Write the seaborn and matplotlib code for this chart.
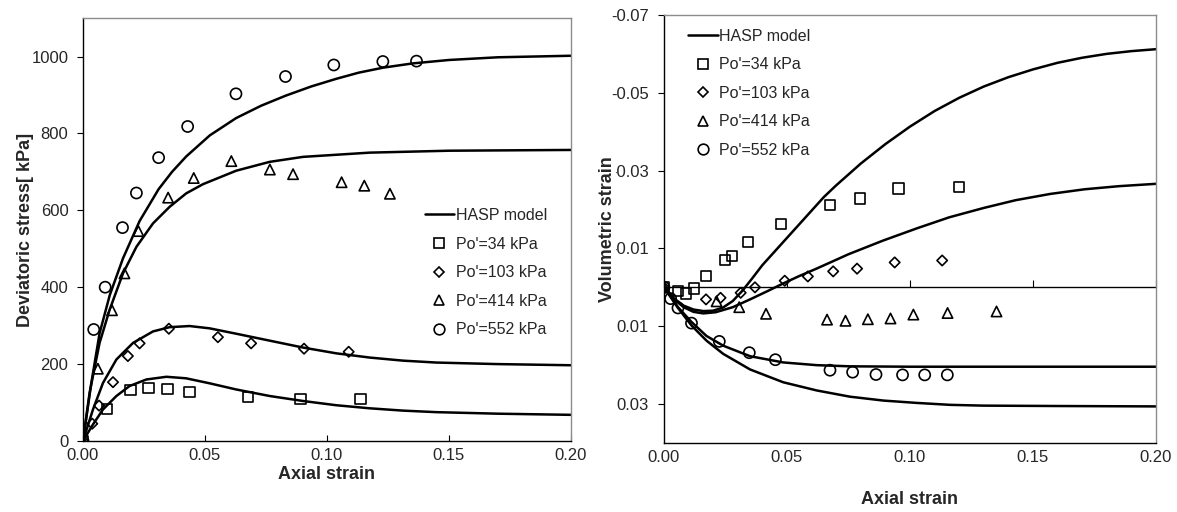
import numpy as np
import pandas as pd
import matplotlib
matplotlib.use("Agg")
import matplotlib.pyplot as plt
import seaborn as sns
from matplotlib.lines import Line2D

# ---- left panel: deviatoric stress (kPa) vs axial strain ----
dev_x_34 = [0, 0.0098, 0.0195, 0.0269, 0.0346, 0.0437, 0.0676, 0.0891, 0.1137]
dev_y_34 = [0, 83, 132, 137, 135, 127, 114, 109, 109]
dev_x_103 = [0, 0.0038, 0.0066, 0.0123, 0.0184, 0.0232, 0.0352, 0.0553, 0.0689, 0.0906, 0.1089]
dev_y_103 = [0, 45, 92, 153, 221, 254, 292, 270, 254, 240, 232]
dev_x_414 = [0, 0.0061, 0.0119, 0.0170, 0.0227, 0.0349, 0.0454, 0.0608, 0.0766, 0.0861, 0.1060, 0.1153, 0.1258]
dev_y_414 = [0, 188, 340, 436, 546, 633, 684, 728, 706, 694, 673, 664, 643]
dev_x_552 = [0, 0.0044, 0.0091, 0.0162, 0.0219, 0.0310, 0.0429, 0.0627, 0.0830, 0.1028, 0.1229, 0.1367]
dev_y_552 = [0, 290, 400, 555, 645, 737, 818, 903, 948, 978, 987, 988]

# model curves (left)
mdev_x_34 = [0, 0.0041, 0.0082, 0.0137, 0.0191, 0.026, 0.0342, 0.0423, 0.0519, 0.0628,
             0.0765, 0.0902, 0.1038, 0.1175, 0.1311, 0.1448, 0.17, 0.2]
mdev_y_34 = [0, 43, 82, 117, 143, 160, 167, 163, 150, 134, 117, 104, 93, 85, 79, 75, 71, 68]
mdev_x_103 = [0, 0.0041, 0.0082, 0.0137, 0.0205, 0.0287, 0.0355, 0.0437, 0.0519, 0.0628,
              0.0765, 0.0902, 0.1038, 0.1175, 0.1311, 0.1448, 0.17, 0.2]
mdev_y_103 = [0, 82, 151, 212, 255, 285, 296, 299, 293, 279, 261, 243, 228, 217, 209, 204, 200, 197]
mdev_x_414 = [0, 0.0027, 0.0068, 0.0109, 0.0164, 0.0219, 0.0287, 0.0355, 0.0423, 0.0492,
              0.0628, 0.0765, 0.0902, 0.1175, 0.15, 0.2]
mdev_y_414 = [0, 125, 255, 341, 436, 505, 566, 609, 644, 668, 703, 726, 739, 750, 755, 757]
mdev_x_552 = [0, 0.0034, 0.0068, 0.011, 0.0164, 0.0232, 0.031, 0.0365, 0.0423, 0.052, 0.0628,
              0.073, 0.083, 0.0935, 0.1038, 0.113, 0.123, 0.135, 0.15, 0.17, 0.2]
mdev_y_552 = [0, 150, 280, 380, 475, 572, 655, 700, 740, 795, 840, 872, 898, 922, 942, 958, 971, 982, 991, 998, 1002]

# ---- right panel: volumetric strain vs axial strain ----
vol_x_34 = [0, 0.0057, 0.0089, 0.0123, 0.0171, 0.0247, 0.0276, 0.0343, 0.0477, 0.0675, 0.0797, 0.0953, 0.1199]
vol_y_34 = [0, 0.0010, 0.0016, 0.0003, -0.0029, -0.0070, -0.0081, -0.0117, -0.0163, -0.0211, -0.0228, -0.0254, -0.0258]
vol_x_103 = [0, 0.0171, 0.0230, 0.0312, 0.0370, 0.0491, 0.0585, 0.0688, 0.0785, 0.0938, 0.1131]
vol_y_103 = [0, 0.0031, 0.0027, 0.0014, 0.0, -0.0017, -0.0028, -0.0041, -0.0048, -0.0064, -0.0069]
vol_x_414 = [0, 0.0214, 0.0306, 0.0415, 0.0663, 0.0738, 0.0829, 0.0921, 0.1014, 0.1153, 0.1352]
vol_y_414 = [0, 0.0036, 0.0051, 0.0068, 0.0083, 0.0086, 0.0082, 0.0080, 0.0070, 0.0066, 0.0062]
vol_x_552 = [0, 0.0027, 0.0057, 0.0112, 0.0225, 0.0347, 0.0453, 0.0675, 0.0767, 0.0862, 0.0970, 0.1060, 0.1152]
vol_y_552 = [0, 0.0029, 0.0053, 0.0092, 0.0139, 0.0168, 0.0186, 0.0213, 0.0218, 0.0224, 0.0225, 0.0225, 0.0225]

# model curves (right)
mvol_x_34 = [0, 0.004, 0.008, 0.012, 0.016, 0.020, 0.024, 0.028, 0.032, 0.036, 0.040, 0.045,
             0.050, 0.055, 0.060, 0.065, 0.070, 0.080, 0.090, 0.100, 0.110, 0.120, 0.130,
             0.140, 0.150, 0.160, 0.170, 0.180, 0.190, 0.200]
mvol_y_34 = [0, 0.0028, 0.0047, 0.0057, 0.0061, 0.0060, 0.0052, 0.0035, 0.0008, -0.0024, -0.0057,
             -0.0092, -0.0127, -0.0162, -0.0197, -0.0232, -0.0262, -0.0318, -0.0368, -0.0413,
             -0.0453, -0.0487, -0.0516, -0.0540, -0.0560, -0.0577, -0.0590, -0.0600, -0.0607, -0.0612]
mvol_x_103 = [0, 0.004, 0.008, 0.012, 0.016, 0.021, 0.028, 0.035, 0.042, 0.0485, 0.055, 0.062,
              0.075, 0.089, 0.103, 0.116, 0.130, 0.143, 0.157, 0.171, 0.185, 0.200]
mvol_y_103 = [0, 0.0030, 0.0051, 0.0063, 0.0067, 0.0064, 0.0051, 0.0031, 0.0010, -0.0010, -0.0029,
              -0.0048, -0.0085, -0.0120, -0.0152, -0.0180, -0.0204, -0.0224, -0.0240, -0.0252,
              -0.0260, -0.0266]
mvol_x_414 = [0, 0.0024, 0.0057, 0.0112, 0.0173, 0.0241, 0.0350, 0.0485, 0.0621, 0.0756, 0.10, 0.15, 0.20]
mvol_y_414 = [0, 0.0021, 0.0051, 0.0089, 0.0125, 0.0150, 0.0177, 0.0193, 0.0200, 0.0203, 0.0204, 0.0204, 0.0204]
mvol_x_552 = [0, 0.0024, 0.0057, 0.0112, 0.0173, 0.0241, 0.0350, 0.0485, 0.0621, 0.0756, 0.0892,
              0.1027, 0.1163, 0.1298, 0.16, 0.20]
mvol_y_552 = [0, 0.0022, 0.0053, 0.0098, 0.0137, 0.0171, 0.0211, 0.0244, 0.0265, 0.0281, 0.0291,
              0.0297, 0.0302, 0.0304, 0.0305, 0.0306]

labels = ["Po'=34 kPa", "Po'=103 kPa", "Po'=414 kPa", "Po'=552 kPa"]
markers = ["s", "D", "^", "o"]
msizes = [55, 28, 55, 64]

sns.set_theme(style="white")
plt.rcParams["font.family"] = ["Liberation Sans", "DejaVu Sans"]
plt.rcParams["font.size"] = 12

fig = plt.figure(figsize=(11.77, 5.12), dpi=100)
ax1 = fig.add_axes([0.0705, 0.1387, 0.4146, 0.826])
ax2 = fig.add_axes([0.5641, 0.1348, 0.418, 0.836])

lw = 1.8


def draw(ax, model, data):
    for mx, my in model:
        sns.lineplot(x=mx, y=my, ax=ax, color="black", lw=lw, sort=False, estimator=None)
    for (dx, dy), m, s in zip(data, markers, msizes):
        sns.scatterplot(x=dx, y=dy, ax=ax, marker=m, s=s, facecolor="none",
                        edgecolor="black", linewidth=1.2, zorder=3)


draw(ax1,
     [(mdev_x_34, mdev_y_34), (mdev_x_103, mdev_y_103), (mdev_x_414, mdev_y_414), (mdev_x_552, mdev_y_552)],
     [(dev_x_34, dev_y_34), (dev_x_103, dev_y_103), (dev_x_414, dev_y_414), (dev_x_552, dev_y_552)])
draw(ax2,
     [(mvol_x_34, mvol_y_34), (mvol_x_103, mvol_y_103), (mvol_x_414, mvol_y_414), (mvol_x_552, mvol_y_552)],
     [(vol_x_34, vol_y_34), (vol_x_103, vol_y_103), (vol_x_414, vol_y_414), (vol_x_552, vol_y_552)])

xt = [0, 0.05, 0.10, 0.15, 0.20]
xtl = ["0.00", "0.05", "0.10", "0.15", "0.20"]

# left axes
ax1.set_xlim(0, 0.2)
ax1.set_ylim(0, 1100)
ax1.set_xticks(xt, xtl)
ax1.set_yticks([0, 200, 400, 600, 800, 1000])
ax1.tick_params(axis="x", direction="in", length=4, width=0.8, bottom=True, labelsize=12, pad=5, color="black")
ax1.tick_params(axis="y", direction="out", length=4, width=0.8, left=True, labelsize=12, pad=6.5, color="black")
ax1.set_xlabel("Axial strain", fontsize=13, fontweight="bold", labelpad=2)
ax1.set_ylabel("Deviatoric stress[ kPa]", fontsize=13, fontweight="bold")
ax1.yaxis.set_label_coords(-0.100, 0.5)

# right axes
ax2.set_xlim(0, 0.2)
ax2.set_ylim(0.04, -0.07)
ax2.set_xticks(xt, xtl)
yt = [-0.07, -0.05, -0.03, -0.01, 0.01, 0.03]
ax2.set_yticks(yt, ["%.2f" % v for v in yt])
ax2.tick_params(axis="x", direction="in", length=0, bottom=True, labelsize=12, pad=5)
ax2.tick_params(axis="y", direction="out", length=4, width=0.8, left=True, labelsize=12, pad=7, color="black")
ax2.set_xlabel("Axial strain", fontsize=13, fontweight="bold", labelpad=19)
ax2.set_ylabel("Volumetric strain", fontsize=13, fontweight="bold",
               bbox=dict(facecolor="white", edgecolor="none", pad=0.2))
ax2.yaxis.set_label_coords(-0.0976, 0.5)
ax2.axhline(0, color="black", lw=0.9, zorder=1)
zero_frac = 0.04 / 0.11
sec = ax2.secondary_xaxis(zero_frac)
sec.set_xticks(xt)
sec.tick_params(direction="in", length=5, width=0.8, labelbottom=False, labeltop=False, color="black")
for sp in sec.spines.values():
    sp.set_linewidth(0.8)
    sp.set_color("black")

for ax in (ax1, ax2):
    ax.grid(False)
    for side in ("left", "bottom"):
        ax.spines[side].set_color("black")
        ax.spines[side].set_linewidth(1.0)
    for side in ("top", "right"):
        ax.spines[side].set_color("#8c8c8c")
        ax.spines[side].set_linewidth(1.0)

handles = [Line2D([], [], color="black", lw=lw)]
msz = [7.2, 5.2, 7.2, 7.7]
for m, ms in zip(markers, msz):
    handles.append(Line2D([], [], ls="", marker=m, ms=ms, mfc="none", mec="black", mew=1.2))
leg_labels = ["HASP model"] + labels

for ax, anchor in ((ax1, (0.70, 0.398)), (ax2, (0.049, 0.817))):
    ax.legend(handles, leg_labels, loc="center left", bbox_to_anchor=anchor, frameon=False,
              fontsize=11.5, handlelength=1.85, handletextpad=0.1, labelspacing=0.85,
              borderpad=0, borderaxespad=0)

fig.savefig("out.png", dpi=100)
